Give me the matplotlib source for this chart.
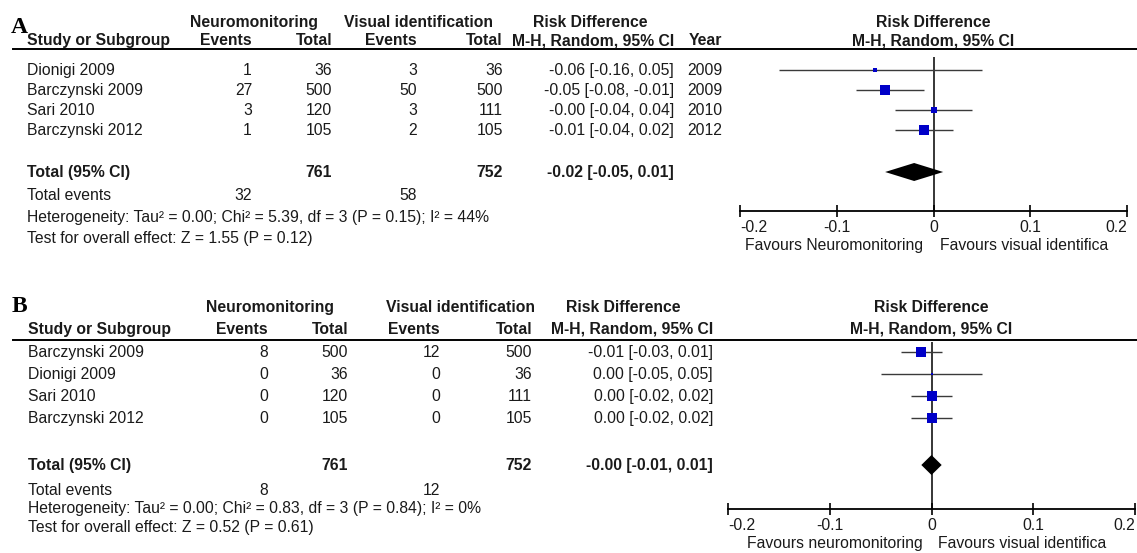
import matplotlib
matplotlib.use("Agg")
import matplotlib.pyplot as plt

plt.rcParams['font.family'] = ['Liberation Sans', 'DejaVu Sans']

# Panel A: recurrent laryngeal nerve palsy (transient)
studies_a = ["Dionigi 2009", "Barczynski 2009", "Sari 2010", "Barczynski 2012"]
neuro_events_a = [1, 27, 3, 1]
neuro_total_a = [36, 500, 120, 105]
visual_events_a = [3, 50, 3, 2]
visual_total_a = [36, 500, 111, 105]
rd_a = [-0.06, -0.05, -0.00, -0.01]
ci_low_a = [-0.16, -0.08, -0.04, -0.04]
ci_high_a = [0.05, -0.01, 0.04, 0.02]
years_a = [2009, 2009, 2010, 2012]
pooled_a = [-0.02, -0.05, 0.01]
het_a = "Heterogeneity: Tau² = 0.00; Chi² = 5.39, df = 3 (P = 0.15); I² = 44%"
test_a = "Test for overall effect: Z = 1.55 (P = 0.12)"

# Panel B: permanent palsy
studies_b = ["Barczynski 2009", "Dionigi 2009", "Sari 2010", "Barczynski 2012"]
neuro_events_b = [8, 0, 0, 0]
neuro_total_b = [500, 36, 120, 105]
visual_events_b = [12, 0, 0, 0]
visual_total_b = [500, 36, 111, 105]
rd_b = [-0.01, 0.00, 0.00, 0.00]
ci_low_b = [-0.03, -0.05, -0.02, -0.02]
ci_high_b = [0.01, 0.05, 0.02, 0.02]
pooled_b = [-0.00, -0.01, 0.01]
het_b = "Heterogeneity: Tau² = 0.00; Chi² = 0.83, df = 3 (P = 0.84); I² = 0%"
test_b = "Test for overall effect: Z = 0.52 (P = 0.61)"

W, H = 1137, 553
FS = 11.3
TXT = '#1a1a1a'
BLUE = '#0000c8'
BASE = 5  # baseline sits this many pixels below a row's centre

fig = plt.figure(figsize=(W / 100, H / 100), dpi=100)
bg = fig.add_axes([0, 0, 1, 1])
bg.set_xlim(0, W)
bg.set_ylim(H, 0)
bg.axis('off')


def put(x, y, s, ha='left', bold=False):
    bg.text(x, y + BASE, s, ha=ha, va='baseline', fontsize=FS, color=TXT,
            fontweight='bold' if bold else 'normal')


def ci_text(rd, lo, hi):
    return f"{rd:.2f} [{lo:.2f}, {hi:.2f}]"


def draw_panel(letter, lay, studies, ne, nt, ve, vt, rd, lo, hi, pooled,
               het, test, box_sizes, fav_left, years=None):
    # panel letter and column headers
    bg.text(lay['letter'][0], lay['letter'][1], letter, fontsize=17,
            fontweight='bold', family='Liberation Serif', va='baseline', color='k')
    y1, y2 = lay['head']
    put(lay['neuro_c'], y1, "Neuromonitoring", 'center', True)
    put(lay['visual_c'], y1, "Visual identification", 'center', True)
    put(lay['rd_c'], y1, "Risk Difference", 'center', True)
    put(lay['plot_c'], y1, "Risk Difference", 'center', True)
    put(lay['study'], y2, "Study or Subgroup", 'left', True)
    put(lay['ne'], y2, "Events", 'right', True)
    put(lay['nt'], y2, "Total", 'right', True)
    put(lay['ve'], y2, "Events", 'right', True)
    put(lay['vt'], y2, "Total", 'right', True)
    put(lay['rd'], y2, "M-H, Random, 95% CI", 'right', True)
    put(lay['plot_c'], y2, "M-H, Random, 95% CI", 'center', True)
    if years is not None:
        put(lay['year'], y2, "Year", 'right', True)
    bg.plot([13, W], [lay['rule'], lay['rule']], color='k', lw=1.4)

    # study rows
    for i, y in enumerate(lay['rows']):
        put(lay['study'], y, studies[i])
        put(lay['ne'], y, str(ne[i]), 'right')
        put(lay['nt'], y, str(nt[i]), 'right')
        put(lay['ve'], y, str(ve[i]), 'right')
        put(lay['vt'], y, str(vt[i]), 'right')
        put(lay['rd'], y, ci_text(rd[i], lo[i], hi[i]), 'right')
        if years is not None:
            put(lay['year'], y, str(years[i]), 'right')

    # pooled row and summary lines
    yt = lay['total']
    put(lay['study'], yt, "Total (95% CI)", 'left', True)
    put(lay['nt'], yt, str(sum(nt)), 'right', True)
    put(lay['vt'], yt, str(sum(vt)), 'right', True)
    put(lay['rd'], yt, ci_text(*pooled), 'right', True)
    ye, yh, yz = lay['notes']
    put(lay['study'], ye, "Total events")
    put(lay['ne'], ye, str(sum(ne)), 'right')
    put(lay['ve'], ye, str(sum(ve)), 'right')
    put(lay['study'], yh, het)
    put(lay['study'], yz, test)

    # forest plot
    x0, x1 = lay['plot_x']
    ytop, ybot = lay['plot_y']
    fax = fig.add_axes([x0 / W, 1 - ybot / H, (x1 - x0) / W, (ybot - ytop) / H])
    fax.set_xlim(-0.2, 0.2)
    fax.set_ylim(ybot, ytop)
    fax.patch.set_alpha(0)
    for s in ('top', 'left', 'right'):
        fax.spines[s].set_visible(False)
    fax.spines['bottom'].set_linewidth(1.3)
    fax.set_yticks([])
    fax.set_xticks([-0.2, -0.1, 0, 0.1, 0.2])
    fax.set_xticklabels(["-0.2", "-0.1", "0", "0.1", "0.2"])
    fax.tick_params(axis='x', direction='inout', length=8, width=1.2,
                    pad=2.5, labelsize=FS, labelcolor=TXT)
    labels = fax.get_xticklabels()
    labels[0].set_ha('left')
    labels[-1].set_ha('right')
    fax.axvline(0, color='k', lw=1.1)
    for i, y in enumerate(lay['rows']):
        fax.hlines(y, lo[i], hi[i], color='#3a3a3a', lw=1.0)
        fax.plot(rd[i], y, 's', ms=box_sizes[i], color=BLUE, mec=BLUE, mew=0)
    c, l, h = pooled
    dh = lay['diamond_h']
    fax.fill([l, c, h, c], [yt, yt - dh, yt, yt + dh], color='k', lw=0)

    yf = lay['favours']
    put(lay['fav_split'][0], yf, fav_left, 'right')
    put(lay['fav_split'][1], yf, "Favours visual identifica", 'left')


layout_a = dict(letter=(11, 33), head=(22, 40), rule=49,
                neuro_c=254, visual_c=418, rd_c=590, plot_c=933,
                study=27, ne=252, nt=332, ve=417, vt=503, rd=674, year=722,
                rows=[70, 90, 110, 130], total=172, notes=(195, 217, 238),
                plot_x=(740, 1127), plot_y=(57, 211), diamond_h=9,
                favours=245, fav_split=(923, 940))

layout_b = dict(letter=(12, 312), head=(307, 329), rule=340,
                neuro_c=270, visual_c=461, rd_c=623, plot_c=931,
                study=28, ne=268, nt=348, ve=440, vt=532, rd=713,
                rows=[352, 374, 396, 418], total=465, notes=(490, 508, 527),
                plot_x=(728, 1135), plot_y=(342, 509), diamond_h=10,
                favours=543, fav_split=(923, 938))

draw_panel("A", layout_a, studies_a, neuro_events_a, neuro_total_a,
           visual_events_a, visual_total_a, rd_a, ci_low_a, ci_high_a,
           pooled_a, het_a, test_a, [2.2, 6.5, 5.0, 7.2],
           "Favours Neuromonitoring", years=years_a)
draw_panel("B", layout_b, studies_b, neuro_events_b, neuro_total_b,
           visual_events_b, visual_total_b, rd_b, ci_low_b, ci_high_b,
           pooled_b, het_b, test_b, [7.2, 1.8, 7.2, 6.5],
           "Favours neuromonitoring")

fig.savefig("out.png", dpi=100)
